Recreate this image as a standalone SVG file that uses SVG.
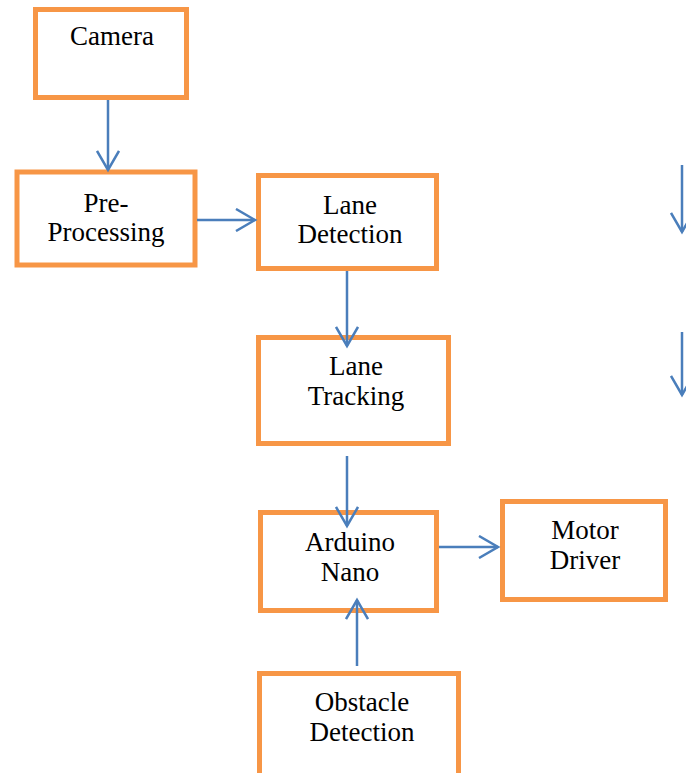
<svg xmlns="http://www.w3.org/2000/svg" width="686" height="773" viewBox="0 0 686 773">
<style>
.box{fill:#fff;stroke:#F79646;stroke-width:5}
.t{font-family:"Liberation Serif","DejaVu Serif",serif;font-size:27px;fill:#000;text-anchor:middle}
.c{stroke:#4A7EBB;stroke-width:2.5;fill:none}
</style>
<defs>
<marker id="ah" viewBox="0 0 24 24" refX="20" refY="12" markerWidth="24" markerHeight="24" markerUnits="userSpaceOnUse" orient="auto">
<path d="M1 1 L20 12 L1 23" fill="none" stroke="#4A7EBB" stroke-width="2.5"/>
</marker>
</defs>
<rect width="686" height="773" fill="#fff"/>
<g id="camera"><rect class="box" x="35.5" y="9.5" width="151" height="88"/><text class="t" x="112" y="45">Camera</text></g>
<g id="preprocessing"><rect class="box" x="17" y="172" width="178" height="93"/><text class="t" x="106" y="212">Pre-</text><text class="t" x="106" y="241">Processing</text></g>
<g id="lane-detection"><rect class="box" x="258.5" y="175.5" width="178" height="93"/><text class="t" x="350" y="214">Lane</text><text class="t" x="350" y="243">Detection</text></g>
<g id="lane-tracking"><rect class="box" x="258.5" y="337.5" width="190" height="106"/><text class="t" x="356" y="375">Lane</text><text class="t" x="356" y="405">Tracking</text></g>
<g id="arduino-nano"><rect class="box" x="260.5" y="512.5" width="176" height="98"/><text class="t" x="350" y="551">Arduino</text><text class="t" x="350" y="581">Nano</text></g>
<g id="motor-driver"><rect class="box" x="502.5" y="501.5" width="163" height="98"/><text class="t" x="585" y="539">Motor</text><text class="t" x="585" y="569">Driver</text></g>
<g id="obstacle-detection"><rect class="box" x="259.5" y="673.5" width="199" height="110"/><text class="t" x="362" y="711">Obstacle</text><text class="t" x="362" y="741">Detection</text></g>
<g id="connectors">
<line class="c" x1="108" y1="100" x2="108" y2="170" marker-end="url(#ah)"/>
<line class="c" x1="197" y1="220" x2="255" y2="220" marker-end="url(#ah)"/>
<line class="c" x1="347" y1="271" x2="347" y2="346" marker-end="url(#ah)"/>
<line class="c" x1="347" y1="456" x2="347" y2="526" marker-end="url(#ah)"/>
<line class="c" x1="439" y1="547" x2="498" y2="547" marker-end="url(#ah)"/>
<line class="c" x1="357" y1="666" x2="357" y2="600" marker-end="url(#ah)"/>
<line class="c" x1="682" y1="165" x2="682" y2="232" marker-end="url(#ah)"/>
<line class="c" x1="682" y1="332" x2="682" y2="395" marker-end="url(#ah)"/>
</g>
</svg>
